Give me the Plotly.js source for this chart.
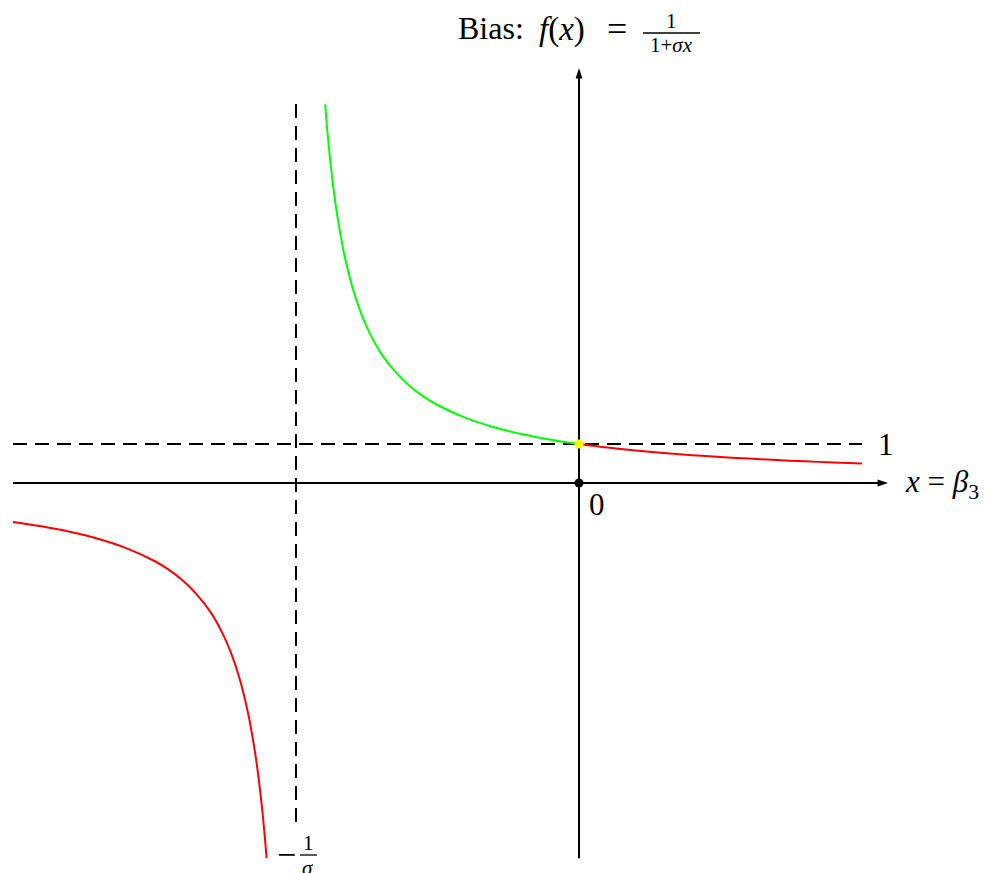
<!DOCTYPE html>
<html>
<head>
<meta charset="utf-8">
<script src="https://cdn.plot.ly/plotly-3.0.1.min.js"></script>
<style>html,body{margin:0;padding:0;background:#fff;}#chart{width:997px;height:873px;}</style>
</head>
<body>
<div id="chart"></div>
<script>
// Data (sigma = 1, x in units of 1/sigma)
const greenX = [-0.897, -0.89, -0.88, -0.87, -0.86, -0.85, -0.83, -0.80, -0.77, -0.74, -0.70, -0.65, -0.60, -0.55, -0.50, -0.40, -0.30, -0.20, -0.10, 0.0];
const greenY = [9.71, 9.09, 8.33, 7.69, 7.14, 6.67, 5.88, 5.00, 4.35, 3.85, 3.33, 2.86, 2.50, 2.22, 2.00, 1.67, 1.43, 1.25, 1.11, 1.00];
const redLeftX = [-2.0, -1.9, -1.8, -1.7, -1.6, -1.5, -1.45, -1.4, -1.35, -1.3, -1.26, -1.23, -1.2, -1.17, -1.15, -1.14, -1.13, -1.12, -1.11, -1.104];
const redLeftY = [-1.0, -1.11, -1.25, -1.43, -1.67, -2.0, -2.22, -2.5, -2.86, -3.33, -3.85, -4.35, -5.0, -5.88, -6.67, -7.14, -7.69, -8.33, -9.09, -9.62];
const redRightX = [0.0, 0.1, 0.2, 0.3, 0.4, 0.5, 0.6, 0.7, 0.8, 0.9, 1.0];
const redRightY = [1.0, 0.909, 0.833, 0.769, 0.714, 0.667, 0.625, 0.588, 0.556, 0.526, 0.5];
const asymptoteX = [-1, -1];
const asymptoteY = [9.72, -8.69];
const levelX = [-2.0, 1.0];
const levelY = [1, 1];
const xAxisSpan = [-2.0, 1.092];
const yAxisSpan = [-9.62, 10.64];
const originPt = {x: [0], y: [0]};
const interceptPt = {x: [0], y: [1]};

const FONT = "Liberation Serif, DejaVu Serif, serif";
const W = 997, H = 873;
const px = v => v / W;           // pixel -> paper x
const py = v => 1 - v / H;       // pixel -> paper y

const traces = [
  {x: asymptoteX, y: asymptoteY, mode: 'lines', line: {color: '#000', width: 2, dash: '14px,8px'}, hoverinfo: 'skip'},
  {x: levelX, y: levelY, mode: 'lines', line: {color: '#000', width: 2, dash: '14px,8px'}, hoverinfo: 'skip'},
  {x: [xAxisSpan[0], xAxisSpan[1] - 0.02], y: [0, 0], mode: 'lines', line: {color: '#000', width: 2}, hoverinfo: 'skip'},
  {x: [0, 0], y: [yAxisSpan[0], yAxisSpan[1] - 0.15], mode: 'lines', line: {color: '#000', width: 2}, hoverinfo: 'skip'},
  // arrow heads at the axis tips
  {x: [xAxisSpan[1]], y: [0], mode: 'markers', marker: {symbol: 'arrow', angle: 90, size: 11, color: '#000', line: {width: 0}}, hoverinfo: 'skip'},
  {x: [0], y: [yAxisSpan[1]], mode: 'markers', marker: {symbol: 'arrow', angle: 0, size: 11, color: '#000', line: {width: 0}}, hoverinfo: 'skip'},
  {x: greenX, y: greenY, mode: 'lines', line: {color: '#00ff00', width: 2, shape: 'spline'}, hoverinfo: 'skip'},
  {x: redLeftX, y: redLeftY, mode: 'lines', line: {color: '#ff0000', width: 2, shape: 'spline'}, hoverinfo: 'skip'},
  {x: redRightX, y: redRightY, mode: 'lines', line: {color: '#ff0000', width: 2, shape: 'spline'}, hoverinfo: 'skip'},
  {x: originPt.x, y: originPt.y, mode: 'markers', marker: {color: '#000', size: 9}, hoverinfo: 'skip'},
  {x: interceptPt.x, y: interceptPt.y, mode: 'markers', marker: {color: '#ffff00', size: 9}, hoverinfo: 'skip'}
];

const annotations = [
  // labels
  {x: levelX[1] + 0.05, y: levelY[0], xref: 'x', yref: 'y', xanchor: 'left', yanchor: 'middle', text: '1', showarrow: false, font: {family: FONT, size: 31, color: '#000'}},
  {x: 1.145, y: -0.03, xref: 'x', yref: 'y', xanchor: 'left', yanchor: 'middle', text: '<i>x</i> = <i>β</i><sub>3</sub>', showarrow: false, font: {family: FONT, size: 31, color: '#000'}},
  {x: 0.062, y: -0.56, xref: 'x', yref: 'y', xanchor: 'center', yanchor: 'middle', text: '0', showarrow: false, font: {family: FONT, size: 31, color: '#000'}},
  // bottom  -1/sigma
  {x: px(286), y: py(854), xref: 'paper', yref: 'paper', xanchor: 'center', yanchor: 'middle', text: '−', showarrow: false, font: {family: FONT, size: 34, color: '#000'}},
  {x: px(308), y: py(843), xref: 'paper', yref: 'paper', xanchor: 'center', yanchor: 'middle', text: '1', showarrow: false, font: {family: FONT, size: 21, color: '#000'}},
  {x: px(308), y: py(868), xref: 'paper', yref: 'paper', xanchor: 'center', yanchor: 'middle', text: '<i>σ</i>', showarrow: false, font: {family: FONT, size: 21, color: '#000'}},
  // title
  {x: px(456), y: py(28), xref: 'paper', yref: 'paper', xanchor: 'left', yanchor: 'middle', text: 'Bias:', showarrow: false, font: {family: FONT, size: 32, color: '#000'}},
  {x: px(562), y: py(30), xref: 'paper', yref: 'paper', xanchor: 'center', yanchor: 'middle', text: '<i>f</i>(<i>x</i>)', showarrow: false, font: {family: FONT, size: 33, color: '#000'}},
  {x: px(617), y: py(29), xref: 'paper', yref: 'paper', xanchor: 'center', yanchor: 'middle', text: '=', showarrow: false, font: {family: FONT, size: 36, color: '#000'}},
  {x: px(671), y: py(21), xref: 'paper', yref: 'paper', xanchor: 'center', yanchor: 'middle', text: '1', showarrow: false, font: {family: FONT, size: 21, color: '#000'}},
  {x: px(671), y: py(45), xref: 'paper', yref: 'paper', xanchor: 'center', yanchor: 'middle', text: '1+<i>σx</i>', showarrow: false, font: {family: FONT, size: 21, color: '#000'}}
];

const shapes = [
  {type: 'line', xref: 'paper', yref: 'paper', x0: px(643), x1: px(700), y0: py(33), y1: py(33), line: {color: '#000', width: 1.3}},
  {type: 'line', xref: 'paper', yref: 'paper', x0: px(300), x1: px(317), y0: py(855), y1: py(855), line: {color: '#000', width: 1.3}}
];

const layout = {
  width: W, height: H,
  margin: {l: 0, r: 0, t: 0, b: 0, pad: 0},
  paper_bgcolor: '#fff', plot_bgcolor: '#fff',
  showlegend: false,
  xaxis: {range: [-579 / 283, 418 / 283], visible: false, fixedrange: true},
  yaxis: {range: [-390 / 39, 483 / 39], visible: false, fixedrange: true},
  annotations: annotations,
  shapes: shapes
};

Plotly.newPlot('chart', traces, layout, {displayModeBar: false, staticPlot: true});
</script>
</body>
</html>
